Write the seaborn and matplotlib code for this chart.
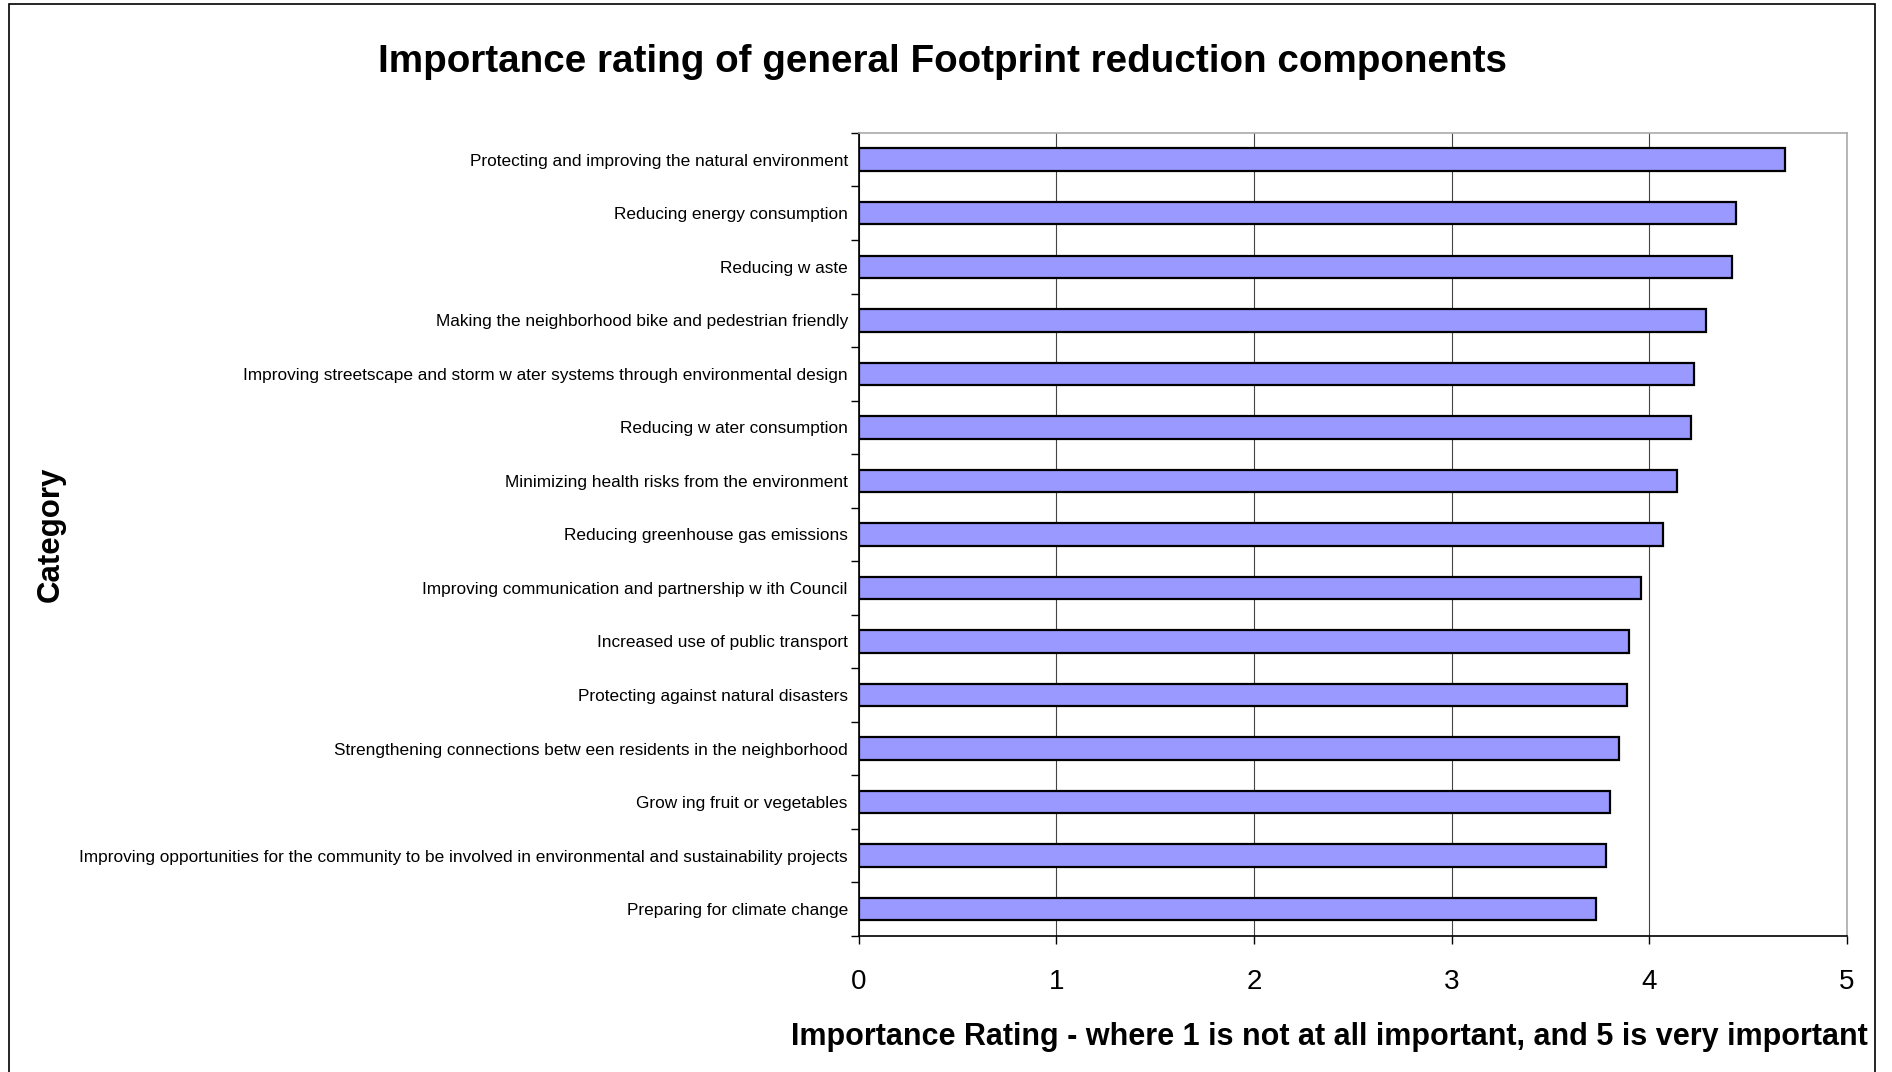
import pandas as pd
import seaborn as sns
import matplotlib.pyplot as plt
import numpy as np

categories = [
    "Protecting and improving the natural environment",
    "Reducing energy consumption",
    "Reducing w aste",
    "Making the neighborhood bike and pedestrian friendly",
    "Improving streetscape and storm w ater systems through environmental design",
    "Reducing w ater consumption",
    "Minimizing health risks from the environment",
    "Reducing greenhouse gas emissions",
    "Improving communication and partnership w ith Council",
    "Increased use of public transport",
    "Protecting against natural disasters",
    "Strengthening connections betw een residents in the neighborhood",
    "Grow ing fruit or vegetables",
    "Improving opportunities for the community to be involved in environmental and sustainability projects",
    "Preparing for climate change",
]
ratings = [4.69, 4.44, 4.42, 4.29, 4.23, 4.21, 4.14, 4.07, 3.96, 3.90,
           3.89, 3.85, 3.80, 3.78, 3.73]
x_ticks = [0, 1, 2, 3, 4, 5]

df = pd.DataFrame({"Category": categories, "Rating": ratings})

sns.set_style("white")
plt.rcParams["font.family"] = ["Liberation Sans", "DejaVu Sans"]
plt.rcParams.update({"text.color": "black", "axes.labelcolor": "black",
                     "xtick.color": "black", "ytick.color": "black"})

fig = plt.figure(figsize=(18.92, 10.72), dpi=100)
ax = fig.add_axes([0.454, 0.127, 0.522, 0.749])

sns.barplot(data=df, x="Rating", y="Category", orient="h", color="#9999FF",
            saturation=1, edgecolor="black", linewidth=1.6, width=0.42, ax=ax, zorder=3)

ax.set_xlim(0, 5)
ax.set_ylim(len(categories) - 0.5, -0.5)
ax.set_xticks(x_ticks)
ax.set_xticklabels([str(t) for t in x_ticks], fontsize=20)
ax.tick_params(axis="x", length=6, width=1, direction="out", pad=18, bottom=True)
ax.tick_params(axis="y", which="major", length=0, labelsize=12.4, pad=8)
ax.set_yticks(np.arange(-0.5, len(categories), 1), minor=True)
ax.tick_params(axis="y", which="minor", length=6, width=1, direction="out", left=True)
ax.grid(axis="x", color="#444444", linewidth=0.8, zorder=0)
ax.grid(axis="y", visible=False)

for side in ["top", "right"]:
    ax.spines[side].set_color("#aaaaaa")
    ax.spines[side].set_linewidth(1.2)
for side in ["left", "bottom"]:
    ax.spines[side].set_color("black")
    ax.spines[side].set_linewidth(1.2)

ax.set_xlabel("Importance Rating - where 1 is not at all important, and 5 is very important",
              fontsize=22, fontweight="bold")
ax.xaxis.set_label_coords(0.476, -0.107)
ax.set_ylabel("")
fig.text(0.027, 0.502, "Category", rotation=90, ha="center", va="center",
         fontsize=22.5, fontweight="bold")
fig.text(0.498, 0.942, "Importance rating of general Footprint reduction components",
         ha="center", va="center", fontsize=27.8, fontweight="bold")

fig.patches.append(plt.Rectangle((0.005, -0.01), 0.986, 1.006, transform=fig.transFigure,
                                 fill=False, edgecolor="black", linewidth=1.2))

fig.savefig("out.png", dpi=100)
